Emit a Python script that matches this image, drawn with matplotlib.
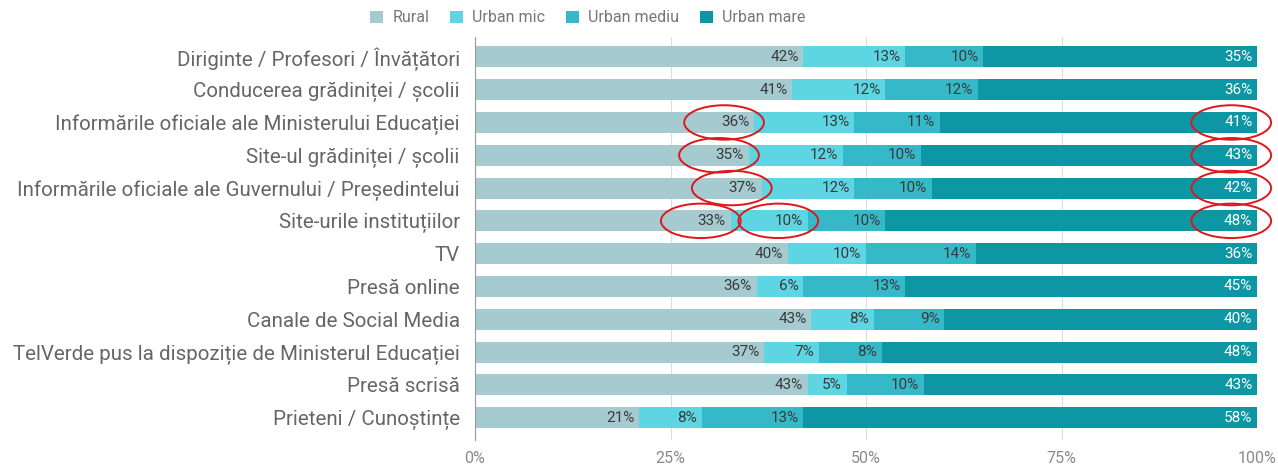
import numpy as np
import matplotlib.pyplot as plt
from matplotlib.patches import Ellipse
from matplotlib.ticker import FuncFormatter

plt.rcParams['font.family'] = ['Roboto', 'DejaVu Sans']

categories = [
    "Diriginte / Profesori / Învățători",
    "Conducerea grădiniței / școlii",
    "Informările oficiale ale Ministerului Educației",
    "Site-ul grădiniței / școlii",
    "Informările oficiale ale Guvernului / Președintelui",
    "Site-urile instituțiilor",
    "TV",
    "Presă online",
    "Canale de Social Media",
    "TelVerde pus la dispoziție de Ministerul Educației",
    "Presă scrisă",
    "Prieteni / Cunoștințe",
]
series = ["Rural", "Urban mic", "Urban mediu", "Urban mare"]
rural = [42, 41, 36, 35, 37, 33, 40, 36, 43, 37, 43, 21]
urban_mic = [13, 12, 13, 12, 12, 10, 10, 6, 8, 7, 5, 8]
urban_mediu = [10, 12, 11, 10, 10, 10, 14, 13, 9, 8, 10, 13]
urban_mare = [35, 36, 41, 43, 42, 48, 36, 45, 40, 48, 43, 58]
colors = ["#a5cad0", "#5dd5e2", "#35b9c9", "#0d97a4"]
label_colors = ["#3a3a3a", "#3a3a3a", "#3a3a3a", "#ffffff"]

# highlighted labels: (row, series index)
highlights = [(2, 0), (3, 0), (4, 0), (5, 0), (5, 1),
              (2, 3), (3, 3), (4, 3), (5, 3)]

data = np.array([rural, urban_mic, urban_mediu, urban_mare], dtype=float)
shares = data / data.sum(axis=0)

fig = plt.figure(figsize=(12.78, 4.65), dpi=100)
ax = fig.add_axes([0.3717, 0.054, 0.6119, 0.866])

y = np.arange(len(categories))
left = np.zeros(len(categories))
ends = []
for k, name in enumerate(series):
    ax.barh(y, shares[k], left=left, height=0.64, color=colors[k], label=name, zorder=2)
    for i in range(len(categories)):
        ax.text(left[i] + shares[k][i] - 0.006, y[i], f"{int(data[k][i])}%",
                ha='right', va='center', fontsize=11, color=label_colors[k], zorder=3)
    left = left + shares[k]
    ends.append(left.copy())

for row, k in highlights:
    off = 0.033 if k == 3 else 0.038
    e = Ellipse((ends[k][row] - off, row), width=0.102, height=1.05,
                fill=False, edgecolor='#e0161b', lw=1.4, clip_on=False, zorder=4)
    ax.add_patch(e)

ax.set_xlim(0, 1)
ax.set_ylim(len(categories) - 1 + 0.68, -0.6)
ax.set_yticks(y)
ax.set_yticklabels(categories, fontsize=14.8, color='#666666')
ax.set_xticks([0, 0.25, 0.5, 0.75, 1])
ax.xaxis.set_major_formatter(FuncFormatter(lambda v, p: f"{int(round(v * 100))}%"))
ax.tick_params(axis='x', labelsize=11.5, labelcolor='#8a8a8a', length=0, pad=8)
ax.tick_params(axis='y', length=0, pad=11)
ax.grid(axis='x', color='#dddddd', lw=0.8, zorder=0)
for s in ['top', 'right', 'bottom']:
    ax.spines[s].set_visible(False)
ax.spines['left'].set_color('#999999')
ax.spines['left'].set_zorder(3)

fig.legend(loc='center', bbox_to_anchor=(0.46, 0.962), ncol=4, frameon=False,
           fontsize=11.5, labelcolor='#777777', handlelength=0.8, handleheight=0.8,
           handletextpad=0.6, columnspacing=1.3)

fig.savefig("out.png", dpi=100)
